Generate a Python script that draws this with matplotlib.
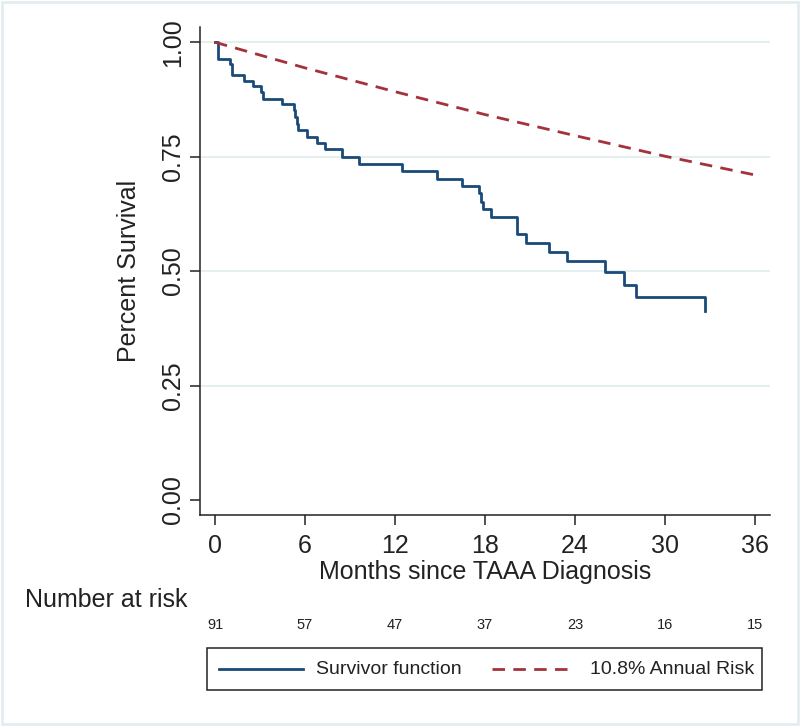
import matplotlib
matplotlib.use("Agg")
import matplotlib.pyplot as plt
from matplotlib.patches import Rectangle
from matplotlib.lines import Line2D

plt.rcParams['font.family'] = ['Liberation Sans', 'DejaVu Sans']

# Kaplan-Meier steps (months, survival after the step)
km_t = [0.0, 0.17, 1.02, 1.1, 1.95, 2.5, 3.06, 3.17, 4.44, 5.24, 5.32, 5.46, 5.54,
        6.12, 6.79, 7.34, 8.45, 9.6, 12.49, 14.77, 16.48, 17.6, 17.7, 17.86, 18.4,
        20.1, 20.14, 20.76, 22.25, 23.47, 26.0, 27.28, 28.06, 32.67]
km_s = [1.0, 0.964, 0.953, 0.929, 0.916, 0.904, 0.891, 0.877, 0.864, 0.852, 0.837,
        0.822, 0.809, 0.793, 0.779, 0.766, 0.750, 0.735, 0.718, 0.702, 0.686, 0.670,
        0.651, 0.635, 0.618, 0.598, 0.580, 0.562, 0.541, 0.522, 0.498, 0.470, 0.444,
        0.413]

# dashed reference curve (10.8% annual risk), read at 6-month steps
ref_t = [0, 6, 12, 18, 24, 30, 36]
ref_s = [1.00, 0.944, 0.892, 0.842, 0.796, 0.751, 0.710]

risk_t = [0, 6, 12, 18, 24, 30, 36]
risk_n = [91, 57, 47, 37, 23, 16, 15]

blue = '#1a4a78'
red = '#a3323c'
grid_c = '#e6eff0'
ink = '#222222'
dash = (0, (4.5, 3))

W, H = 800, 726


def fx(px):
    return px / W


def fy(py):
    return 1 - py / H


fig = plt.figure(figsize=(8, 7.26), dpi=100)
ax = fig.add_axes([0.25, 0.2906, 0.7125, 0.672])

ax.step(km_t, km_s, where='post', color=blue, lw=2.0)
ax.plot(ref_t, ref_s, color=red, lw=2.0, ls=dash)

ax.set_xlim(-1, 37)
ax.set_ylim(-0.033, 1.033)
ax.set_xticks(risk_t)
ax.set_yticks([0, 0.25, 0.5, 0.75, 1.0])
ax.set_yticklabels(['0.00', '0.25', '0.50', '0.75', '1.00'], rotation=90, va='center')
for y in [0.25, 0.5, 0.75, 1.0]:
    ax.axhline(y, color=grid_c, lw=1.5, zorder=0)

for s in ['top', 'right']:
    ax.spines[s].set_visible(False)
for s in ['left', 'bottom']:
    ax.spines[s].set_linewidth(1.1)
    ax.spines[s].set_color(ink)
ax.tick_params(direction='out', length=7, width=1.1, color=ink,
               labelsize=18, labelcolor=ink, pad=4)
ax.tick_params(axis='x', pad=7)

ax.set_xlabel('Months since TAAA Diagnosis', fontsize=18, color=ink, labelpad=1)
ax.set_ylabel('Percent Survival', fontsize=18, color=ink, labelpad=14)

# number at risk table
fig.text(fx(25), fy(600), 'Number at risk', fontsize=18, color=ink, va='center')
for t, n in zip(risk_t, risk_n):
    ax.text(t, -0.225, str(n), transform=ax.get_xaxis_transform(),
            ha='center', va='center', fontsize=10.5, color=ink)

# legend box drawn by hand
fig.add_artist(Rectangle((fx(207), fy(690)), fx(762) - fx(207), fy(648) - fy(690),
                         transform=fig.transFigure, fill=False, edgecolor=ink, lw=1.1))
fig.add_artist(Line2D([fx(219), fx(303)], [fy(669)] * 2, transform=fig.transFigure,
                      color=blue, lw=2.0))
fig.text(fx(316), fy(669), 'Survivor function', fontsize=14, color=ink, va='center')
fig.add_artist(Line2D([fx(492), fx(572)], [fy(669)] * 2, transform=fig.transFigure,
                      color=red, lw=2.0, ls=dash))
fig.text(fx(590), fy(669), '10.8% Annual Risk', fontsize=14, color=ink, va='center')

# faint outer frame
fig.add_artist(Rectangle((0.003, 0.003), 0.994, 0.994, transform=fig.transFigure,
                         fill=False, edgecolor='#e3ecee', lw=2))

fig.savefig('out.png', dpi=100)
